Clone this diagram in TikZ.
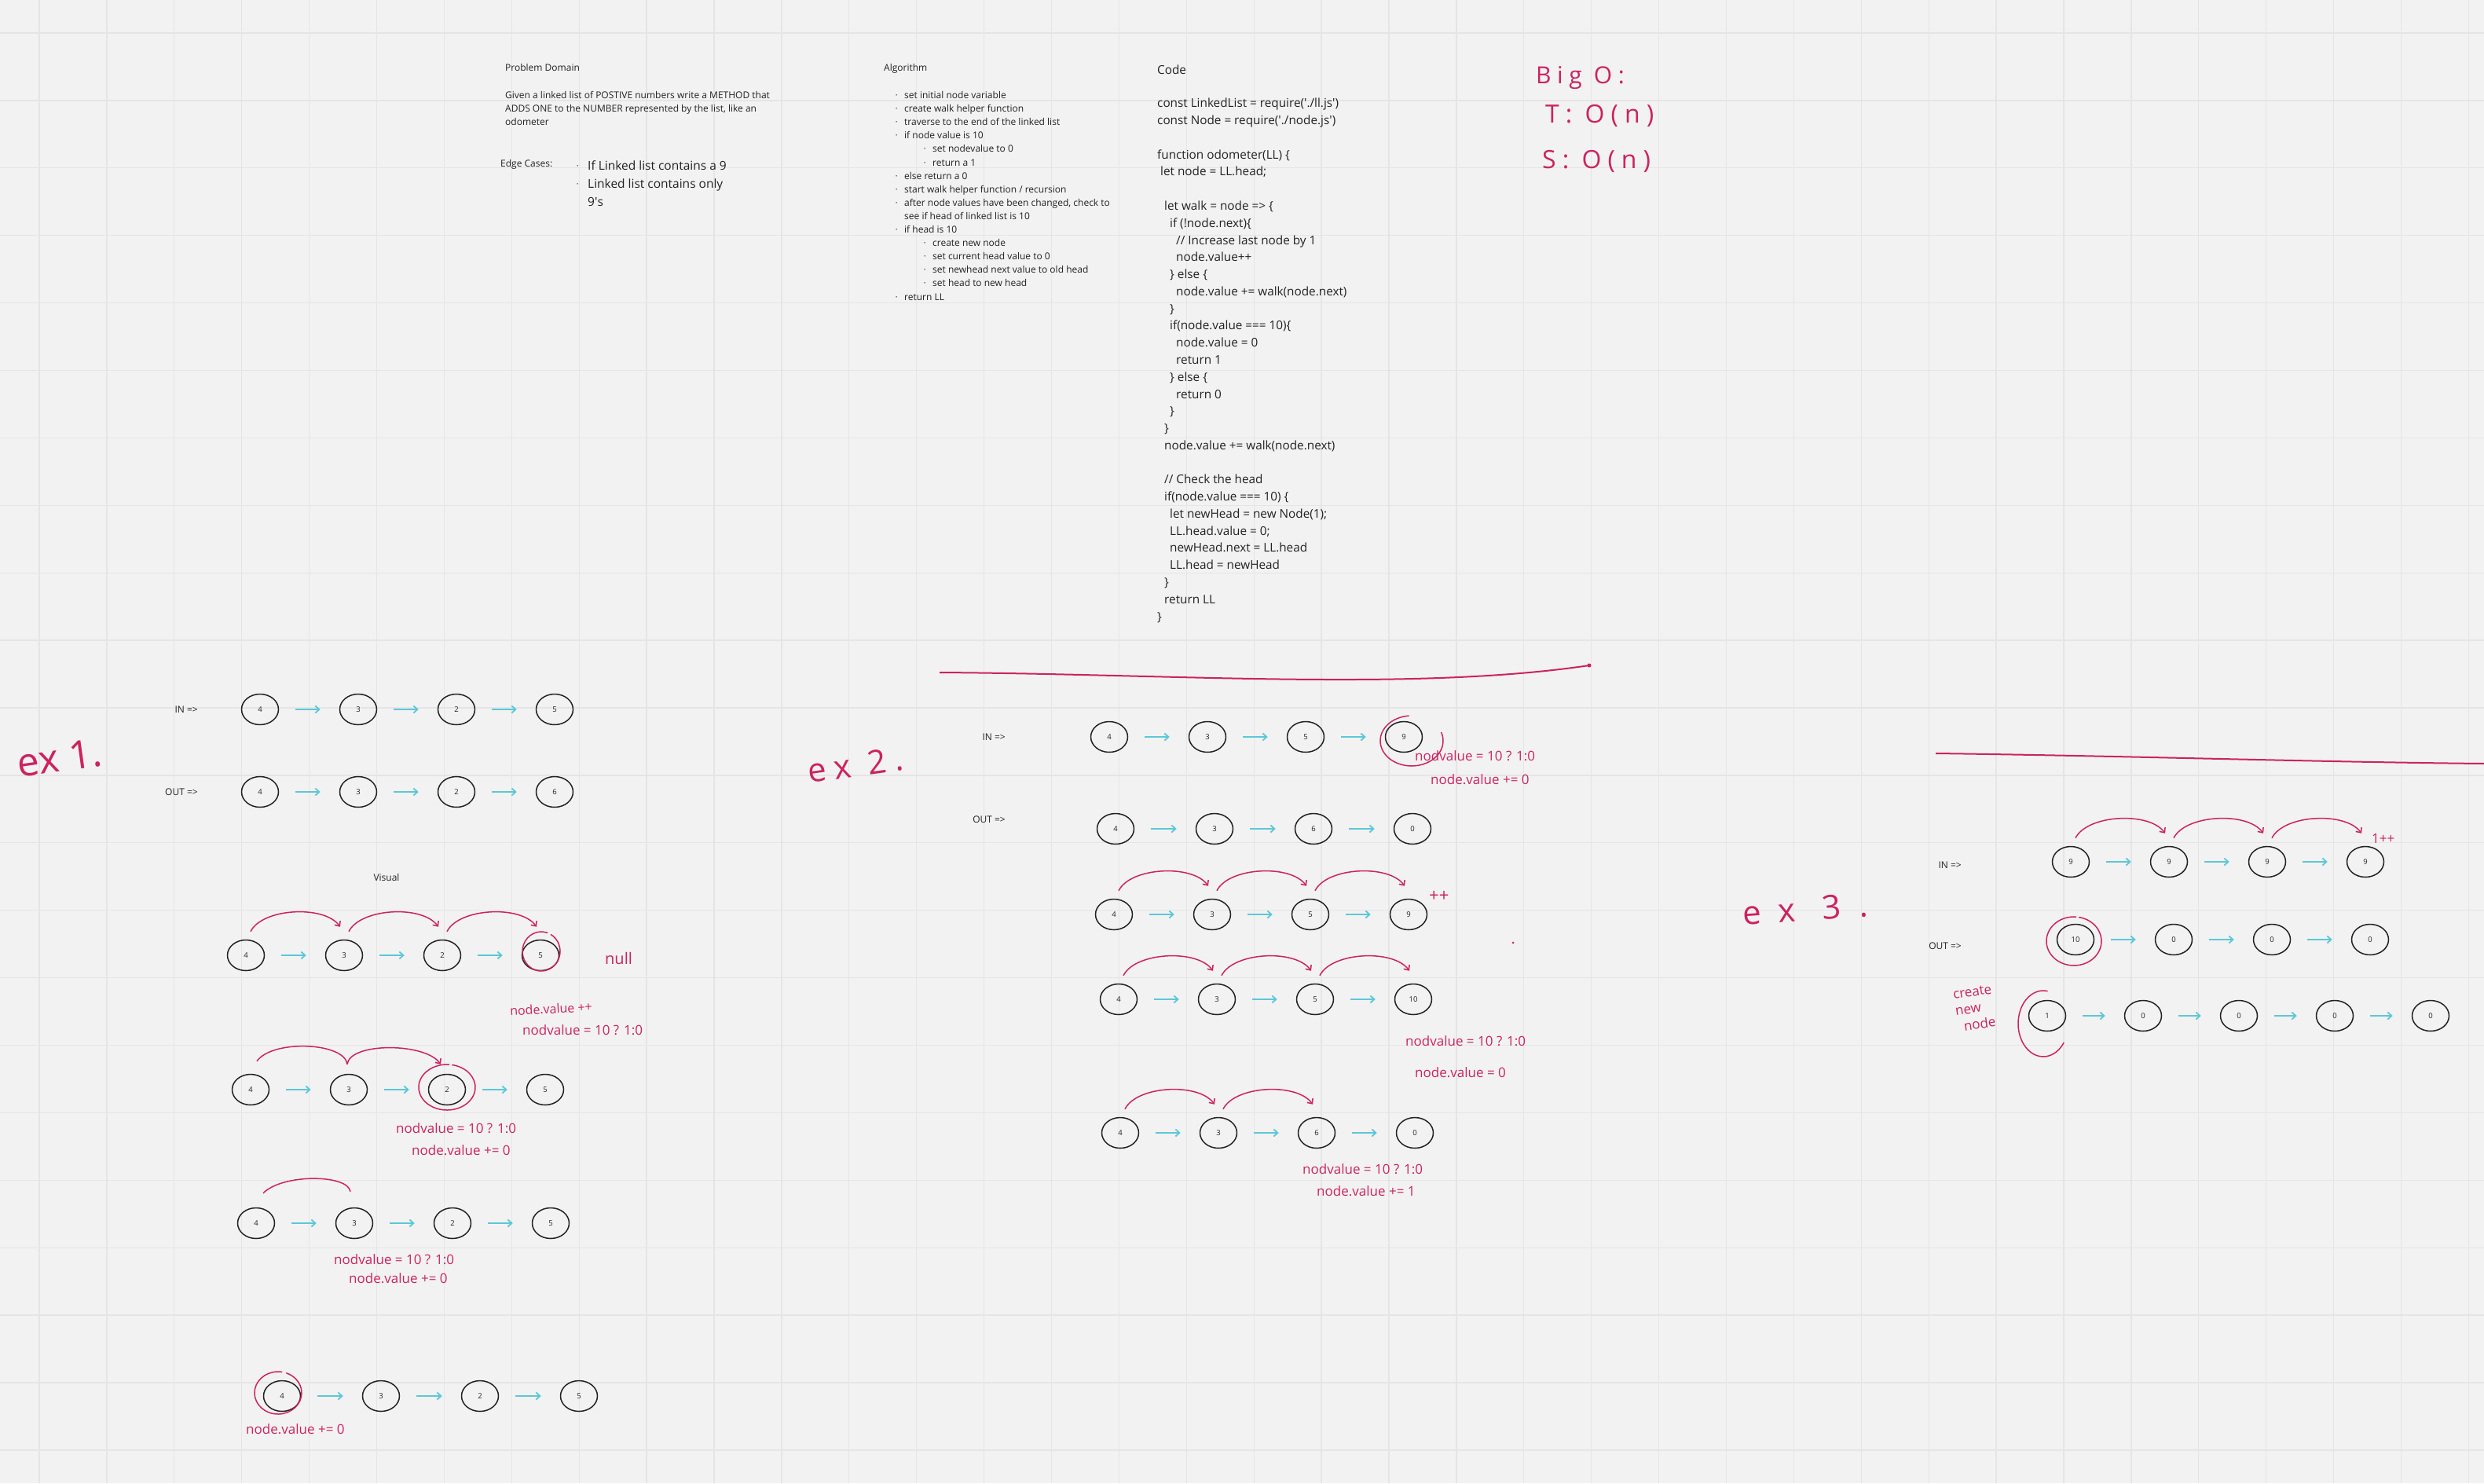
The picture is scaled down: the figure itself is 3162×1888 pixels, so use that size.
\documentclass[tikz,border=0pt]{standalone}
\usepackage{fontspec}
\setmainfont{Open Sans}
\newfontfamily\handfont{Open Sans}
\newfontfamily\spreadfont{Open Sans}[LetterSpace=25]
\newfontfamily\widefont{Open Sans}[LetterSpace=55]
\usetikzlibrary{arrows.meta,calc,shapes.geometric}
\definecolor{board}{RGB}{242,242,242}
\definecolor{gridc}{RGB}{229,229,229}
\definecolor{ink}{RGB}{34,34,34}
\definecolor{marker}{RGB}{204,35,95}
\definecolor{aqua}{RGB}{92,200,214}
\newcommand\bul[1]{\makebox[#1][l]{\raisebox{0.3ex}{\fontsize{6}{6}\selectfont\textbullet}}}

\begin{document}
\begin{tikzpicture}[x=1pt,y=1pt,
  ll/.style={ellipse,draw=ink,line width=1.5pt,minimum width=47pt,minimum height=39pt,
    inner sep=0pt,font=\fontsize{9.5}{10}\selectfont,text=ink},
  nxt/.style={aqua,line width=1.8pt,-{Straight Barb[length=5pt,width=9pt]},
    shorten <=21pt,shorten >=24pt},
  hop/.style={marker,line width=1.5pt,-{Straight Barb[length=5pt,width=9pt]}},
  hopline/.style={marker,line width=1.5pt},
  ring/.style={marker,line width=1.5pt},
  txt/.style={font=\fontsize{12}{17}\selectfont,text=ink,inner sep=0pt},
  code/.style={font=\fontsize{15.3}{21.77}\selectfont,text=ink,inner sep=0pt},
  hand/.style={font=\handfont\fontsize{17}{20}\selectfont,text=marker,inner sep=0pt,anchor=west}]
 % board
 \useasboundingbox (0,0) rectangle (3162,-1888);
 \fill[board] (0,0) rectangle (3162,-1888);
 \foreach \k in {0,...,36} \draw[gridc,line width=1.3pt] ({50+85.9*\k},0) -- ++(0,-1888);
 \foreach \k in {0,...,21} \draw[gridc,line width=1.3pt] (0,{-42-85.9*\k}) -- ++(3162,0);

 % problem domain (multi-line nodes sit on their last baseline)
 \node[txt,anchor=base west] (pdtitle) at (643,-90) {Problem Domain};
 \node[txt,anchor=base west,align=left] (pdtext) at (643,-159)
   {Given a linked list of POSTIVE numbers write a METHOD that\\
    ADDS ONE to the NUMBER represented by the list, like an\\ odometer};
 \node[txt,anchor=base west] (edge) at (637,-212) {Edge Cases:};
 \node[txt,font=\fontsize{15.5}{23}\selectfont,anchor=base west,align=left] (edgelist) at (734,-262)
   {\bul{14pt}If Linked list contains a 9\\ \bul{14pt}Linked list contains only\\
    \hspace*{14pt}9\textquotesingle s};

 % algorithm
 \node[txt,anchor=base west] (algtitle) at (1125,-90) {Algorithm};
 \node[txt,font=\fontsize{12}{17.1}\selectfont,anchor=base west,align=left] (alglist) at (1140,-382)
   {\bul{11pt}set initial node variable\\
    \bul{11pt}create walk helper function\\
    \bul{11pt}traverse to the end of the linked list\\
    \bul{11pt}if node value is 10\\
    \hspace*{36pt}\bul{11pt}set nodevalue to 0\\
    \hspace*{36pt}\bul{11pt}return a 1\\
    \bul{11pt}else return a 0\\
    \bul{11pt}start walk helper function / recursion\\
    \bul{11pt}after node values have been changed, check to\\
    \hspace*{11pt}see if head of linked list is 10\\
    \bul{11pt}if head is 10\\
    \hspace*{36pt}\bul{11pt}create new node\\
    \hspace*{36pt}\bul{11pt}set current head value to 0\\
    \hspace*{36pt}\bul{11pt}set newhead next value to old head\\
    \hspace*{36pt}\bul{11pt}set head to new head\\
    \bul{11pt}return LL};

 % code
 \node[code,anchor=base west] (codetitle) at (1473,-94) {Code};
 \node[code,anchor=base west,align=left] (codebody) at (1473,-790)
   {const LinkedList = require(\textquotesingle./ll.js\textquotesingle)\\
    const Node = require(\textquotesingle./node.js\textquotesingle)\\
    ~\\
    function odometer(LL) \{\\
    \hspace*{4pt}let node = LL.head;\\
    ~\\
    \hspace*{9pt}let walk = node => \{\\
    \hspace*{16pt}if (!node.next)\{\\
    \hspace*{24pt}// Increase last node by 1\\
    \hspace*{24pt}node.value++\\
    \hspace*{16pt}\} else \{\\
    \hspace*{24pt}node.value += walk(node.next)\\
    \hspace*{16pt}\}\\
    \hspace*{16pt}if(node.value === 10)\{\\
    \hspace*{24pt}node.value = 0\\
    \hspace*{24pt}return 1\\
    \hspace*{16pt}\} else \{\\
    \hspace*{24pt}return 0\\
    \hspace*{16pt}\}\\
    \hspace*{9pt}\}\\
    \hspace*{9pt}node.value += walk(node.next)\\
    ~\\
    \hspace*{9pt}// Check the head\\
    \hspace*{9pt}if(node.value === 10) \{\\
    \hspace*{16pt}let newHead = new Node(1);\\
    \hspace*{16pt}LL.head.value = 0;\\
    \hspace*{16pt}newHead.next = LL.head\\
    \hspace*{16pt}LL.head = newHead\\
    \hspace*{9pt}\}\\
    \hspace*{9pt}return LL\\
    \}};

 % big O
 \node[hand,font=\spreadfont\fontsize{30}{30}\selectfont,anchor=base west] (bigo) at (1955,-106) {Big O:};
 \node[hand,font=\spreadfont\fontsize{32}{32}\selectfont,anchor=base west] (tcost) at (1967,-156) {T: O(n)};
 \node[hand,font=\spreadfont\fontsize{32}{32}\selectfont,anchor=base west] (scost) at (1963,-214) {S: O(n)};

 % ex 1
 \node[hand,font=\handfont\fontsize{50}{50}\selectfont,rotate=8] (exone) at (22,-972) {ex 1.};
 \node[txt,anchor=east] (ainlab) at (252,-903) {IN =>};
 \node[txt,anchor=east] (aoutlab) at (252,-1008) {OUT =>};
 \foreach \v [count=\i] in {4,3,2,5} \node[ll] (ai\i) at ({331+125*(\i-1)},-903) {\v};
 \foreach \v [count=\i] in {4,3,2,6} \node[ll] (ao\i) at ({331+125*(\i-1)},-1008) {\v};
 \foreach \i/\j in {1/2,2/3,3/4} {\draw[nxt] (ai\i) -- (ai\j); \draw[nxt] (ao\i) -- (ao\j);}

 \node[txt] (visual) at (492,-1117) {Visual};
 \foreach \v [count=\i] in {4,3,2,5} {
   \node[ll] (va\i) at ({313+125*(\i-1)},-1216) {\v};
   \node[ll] (vb\i) at ({319+125*(\i-1)},-1387) {\v};
   \node[ll] (vc\i) at ({326+125*(\i-1)},-1557) {\v};
   \node[ll] (vd\i) at ({359+126*(\i-1)},-1777) {\v};}
 \foreach \i/\j in {1/2,2/3,3/4} {\draw[nxt] (va\i) -- (va\j); \draw[nxt] (vb\i) -- (vb\j);
   \draw[nxt] (vc\i) -- (vc\j); \draw[nxt] (vd\i) -- (vd\j);}
 % walk row 1
 \foreach \i/\j in {1/2,2/3,3/4}
   \draw[hop] ($(va\i.north)+(6,10)$) .. controls +(15,30) and +(-20,28) .. ($(va\j.north)+(-5,16)$);
 \draw[ring] ($(va4)+(1,5)$) ++(70:24 and 25) arc[start angle=70,end angle=420,x radius=24,y radius=25];
 \node[hand,font=\handfont\fontsize{20}{20}\selectfont] (null) at (770,-1220) {null};
 \node[hand,font=\handfont\fontsize{16}{18}\selectfont,rotate=3] (vainc) at (649,-1287) {node.value ++};
 \node[hand] (vatest) at (665,-1311) {nodvalue = 10 ? 1:0};
 % walk row 2
 \draw[hopline] ($(vb1.north)+(8,16)$) .. controls +(20,28) and +(-3,28) .. ($(vb2.north)+(-2,12)$);
 \draw[hop] ($(vb2.north)+(-2,12)$) .. controls +(3,28) and +(-20,28) .. ($(vb3.north)+(-8,12)$);
 \draw[ring] ($(vb3)+(0,3)$) ++(85:36 and 29) arc[start angle=85,end angle=440,x radius=36,y radius=29];
 \node[hand] (vbtest) at (504,-1436) {nodvalue = 10 ? 1:0};
 \node[hand] (vbadd) at (524,-1464) {node.value += 0};
 % walk row 3
 \draw[hopline] ($(vc1.north)+(9,18)$) .. controls +(25,25) and +(-3,22) .. ($(vc2.north)+(-5,20)$);
 \node[hand] (vctest) at (425,-1603) {nodvalue = 10 ? 1:0};
 \node[hand] (vcadd) at (444,-1627) {node.value += 0};
 % walk row 4
 \draw[ring] ($(vd1)+(-5,4)$) ++(80:30 and 27) arc[start angle=80,end angle=430,x radius=30,y radius=27];
 \node[hand] (vdadd) at (313,-1819) {node.value += 0};

 % ex 2
 \draw[marker,line width=2pt] (1196,-856) .. controls (1500,-858) and (1800,-880) .. (2023,-847);
 \fill[marker] (2023,-847) circle (2.5);
 \node[hand,font=\spreadfont\fontsize{42}{42}\selectfont,rotate=8] (extwo) at (1028,-982) {ex 2.};
 \node[txt,anchor=east] (binlab) at (1280,-938) {IN =>};
 \node[txt,anchor=east] (boutlab) at (1280,-1043) {OUT =>};
 \foreach \v [count=\i] in {4,3,5,9} \node[ll] (bi\i) at ({1412+125*(\i-1)},-938) {\v};
 \foreach \v [count=\i] in {4,3,6,0} \node[ll] (bo\i) at ({1420+126*(\i-1)},-1055) {\v};
 \foreach \v [count=\i] in {4,3,5,9} \node[ll] (bc\i) at ({1418+125*(\i-1)},-1164) {\v};
 \foreach \v [count=\i] in {4,3,5,10} \node[ll] (bd\i) at ({1424+125*(\i-1)},-1272) {\v};
 \foreach \v [count=\i] in {4,3,6,0} \node[ll] (be\i) at ({1426+125*(\i-1)},-1442) {\v};
 \foreach \i/\j in {1/2,2/3,3/4} {\draw[nxt] (bi\i) -- (bi\j); \draw[nxt] (bo\i) -- (bo\j);
   \draw[nxt] (bc\i) -- (bc\j); \draw[nxt] (bd\i) -- (bd\j); \draw[nxt] (be\i) -- (be\j);}
 \foreach \i/\j in {1/2,2/3,3/4} {
   \draw[hop] ($(bc\i.north)+(6,10)$) .. controls +(15,30) and +(-20,28) .. ($(bc\j.north)+(-5,16)$);
   \draw[hop] ($(bd\i.north)+(6,10)$) .. controls +(15,30) and +(-20,28) .. ($(bd\j.north)+(-5,16)$);}
 \foreach \i/\j in {1/2,2/3}
   \draw[hop] ($(be\i.north)+(6,10)$) .. controls +(15,30) and +(-20,28) .. ($(be\j.north)+(-5,16)$);
 \draw[ring] ($(bi4)+(10,-5)$) ++(95:40 and 32) arc[start angle=95,end angle=380,x radius=40,y radius=32];
 \node[hand] (bitest) at (1801,-962) {nodvalue = 10 ? 1:0};
 \node[hand] (biadd) at (1821,-992) {node.value += 0};
 \node[hand,font=\handfont\fontsize{22}{22}\selectfont] (bcinc) at (1819,-1141) {++};
 \fill[marker] (1926,-1200) circle (1.5);
 \node[hand] (bdtest) at (1789,-1325) {nodvalue = 10 ? 1:0};
 \node[hand] (bdset) at (1801,-1365) {node.value = 0};
 \node[hand] (betest) at (1658,-1488) {nodvalue = 10 ? 1:0};
 \node[hand] (beadd) at (1676,-1516) {node.value += 1};

 % ex 3
 \draw[marker,line width=2pt] (2464,-959) .. controls (2700,-962) and (2950,-970) .. (3162,-972);
 \node[hand,font=\widefont\fontsize{42}{42}\selectfont,rotate=4] (exthree) at (2218,-1163) {ex 3.};
 \node[txt,anchor=east] (cinlab) at (2497,-1101) {IN =>};
 \node[txt,anchor=east] (coutlab) at (2497,-1204) {OUT =>};
 \foreach \v [count=\i] in {9,9,9,9} \node[ll] (ci\i) at ({2636+125*(\i-1)},-1097) {\v};
 \foreach \v [count=\i] in {10,0,0,0} \node[ll] (co\i) at ({2642+125*(\i-1)},-1196) {\v};
 \foreach \v [count=\i] in {1,0,0,0,0} \node[ll] (cn\i) at ({2606+122*(\i-1)},-1293) {\v};
 \foreach \i/\j in {1/2,2/3,3/4} {\draw[nxt] (ci\i) -- (ci\j); \draw[nxt] (co\i) -- (co\j);
   \draw[hop] ($(ci\i.north)+(6,10)$) .. controls +(15,30) and +(-20,28) .. ($(ci\j.north)+(-5,16)$);}
 \foreach \i/\j in {1/2,2/3,3/4,4/5} \draw[nxt] (cn\i) -- (cn\j);
 \node[hand,font=\handfont\fontsize{17}{17}\selectfont] (ciinc) at (3019,-1067) {1++};
 \draw[ring] ($(co1)+(-2,-2)$) ++(85:35 and 31) arc[start angle=85,end angle=440,x radius=35,y radius=31];
 \draw[ring] ($(cn1)+(-5,-10)$) ++(80:32 and 42) arc[start angle=80,end angle=325,x radius=32,y radius=42];
 \node[hand,font=\handfont\fontsize{17}{21}\selectfont,align=left,rotate=8] (newnote) at (2489,-1287)
   {create\\new\\\hspace*{8pt}node};
\end{tikzpicture}
\end{document}
